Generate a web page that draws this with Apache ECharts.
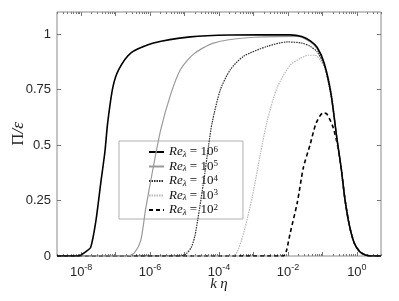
<!DOCTYPE html>
<html>
<head>
<meta charset="utf-8">
<script src="https://cdn.jsdelivr.net/npm/echarts@6/dist/echarts.min.js"></script>
<style>html,body{margin:0;padding:0;background:#fff}#c{width:399px;height:301px}</style>
</head>
<body>
<div id="c"></div>
<script>
// x values are log10(k*eta); y values are Pi/epsilon
const xMin = -8.7, xMax = 0.7;
const xLabelExps = [-8, -6, -4, -2, 0];
const yTicks = [0, 0.25, 0.5, 0.75, 1];

// shared dissipation-range tail (all curves collapse here)
const tailLogK = [-0.45, -0.35, -0.22, -0.08, 0.08, 0.25, 0.4, 0.7];
const tailPi   = [0.39, 0.26, 0.14, 0.06, 0.02, 0.004, 0, 0];

const re6LogK = [-8.7, -8.09, -7.86, -7.72, -7.57, -7.43, -7.31, -7.23, -7.08, -6.91, -6.56, -5.9, -4.83, -3.67, -1.94, -1.6, -1.35, -1.15, -0.95, -0.75, -0.58];
const re6Pi   = [0, 0, 0.02, 0.04, 0.16, 0.33, 0.47, 0.6, 0.76, 0.84, 0.915, 0.96, 0.988, 0.996, 0.997, 0.99, 0.97, 0.94, 0.87, 0.73, 0.53];

const re5LogK = [-8.7, -6.65, -6.45, -6.27, -6.13, -5.92, -5.69, -5.4, -5.12, -4.74, -4.16, -3.09, -1.73, -1.35, -1.15, -0.95, -0.75, -0.58];
const re5Pi   = [0, 0, 0.015, 0.07, 0.21, 0.39, 0.57, 0.73, 0.84, 0.91, 0.96, 0.985, 0.99, 0.965, 0.935, 0.865, 0.73, 0.53];

const re4LogK = [-8.7, -5.1, -4.95, -4.8, -4.7, -4.62, -4.45, -4.3, -4.2, -3.96, -3.67, -3.29, -2.6, -2.02, -1.6, -1.35, -1.15, -0.95, -0.75, -0.58];
const re4Pi   = [0, 0, 0.01, 0.04, 0.09, 0.16, 0.33, 0.5, 0.6, 0.75, 0.84, 0.9, 0.945, 0.965, 0.96, 0.945, 0.92, 0.86, 0.725, 0.53];

const re3LogK = [-8.7, -3.6, -3.47, -3.35, -3.24, -3.03, -2.8, -2.6, -2.31, -1.94, -1.65, -1.4, -1.21, -1.05, -0.87, -0.72, -0.58];
const re3Pi   = [0, 0, 0.02, 0.07, 0.13, 0.27, 0.46, 0.61, 0.76, 0.86, 0.89, 0.905, 0.905, 0.88, 0.83, 0.72, 0.53];

const re2LogK = [-8.7, -2.14, -2.05, -1.94, -1.73, -1.55, -1.36, -1.18, -0.98, -0.87, -0.69, -0.55];
const re2Pi   = [0, 0, 0.02, 0.1, 0.24, 0.4, 0.5, 0.6, 0.645, 0.64, 0.58, 0.49];

const seriesNames = ['6', '5', '4', '3', '2'];

function pairs(xs, ys) {
  const a = xs.map((x, i) => [x, ys[i]]);
  return a.concat(tailLogK.map((x, i) => [x, tailPi[i]]));
}

const majorTicks = [];
const minorTicks = [];
for (let d = -9; d <= 0; d++) {
  if (d >= xMin && d <= xMax) majorTicks.push(d);
  for (let m = 2; m <= 9; m++) {
    const v = d + Math.log10(m);
    if (v > xMin && v < xMax) minorTicks.push(v);
  }
}

const labelFont = 'Liberation Sans, Arial, sans-serif';
const serif = 'Liberation Serif, DejaVu Serif, serif';

function xAxisDef(pos, ticks, len, showLabel) {
  return {
    type: 'value', min: xMin, max: xMax, position: pos, gridIndex: 0,
    axisLine: { show: false, onZero: false },
    splitLine: { show: false },
    axisTick: { show: true, inside: true, length: len, customValues: ticks, lineStyle: { color: '#777', width: 1 } },
    axisLabel: showLabel ? {
      show: true, customValues: xLabelExps, margin: 7,
      formatter: v => '{b|10}{s|' + Math.round(v) + '}',
      rich: {
        b: { fontSize: 13, fontFamily: labelFont, color: '#262626', verticalAlign: 'bottom', lineHeight: 16 },
        s: { fontSize: 9, fontFamily: labelFont, color: '#262626', verticalAlign: 'top', lineHeight: 16, padding: [0, 0, 6, 0] }
      }
    } : { show: false }
  };
}

const xAxes = [
  Object.assign(xAxisDef('bottom', majorTicks, 4, true), {
    name: '{i|k} {i|η}', nameLocation: 'middle', nameGap: 21, nameMoveOverlap: false,
    nameTextStyle: { rich: { i: { fontFamily: serif, fontStyle: 'italic', fontSize: 15, color: '#222' } } }
  }),
  xAxisDef('bottom', minorTicks, 2, false),
  xAxisDef('top', majorTicks, 4, false),
  xAxisDef('top', minorTicks, 2, false)
];

const yAxes = [
  {
    type: 'value', min: 0, max: 1.1, position: 'left',
    axisLine: { show: false, onZero: false }, splitLine: { show: false },
    axisTick: { show: true, inside: true, length: 4, customValues: yTicks, lineStyle: { color: '#777' } },
    axisLabel: { show: true, customValues: yTicks, margin: 6, fontSize: 13, fontFamily: labelFont, color: '#262626',
      formatter: v => String(+v.toFixed(2)) },
    name: '{u|Π}{i|/ε}', nameLocation: 'middle', nameGap: 30, nameRotate: 90, nameMoveOverlap: false,
    nameTextStyle: { rich: {
      u: { fontFamily: serif, fontSize: 17, color: '#222' },
      i: { fontFamily: serif, fontStyle: 'italic', fontSize: 17, color: '#222' } } }
  },
  {
    type: 'value', min: 0, max: 1.1, position: 'right',
    axisLine: { show: false, onZero: false }, splitLine: { show: false },
    axisTick: { show: true, inside: true, length: 4, customValues: yTicks, lineStyle: { color: '#777' } },
    axisLabel: { show: false }
  }
];

const styles = [
  { color: '#000000', width: 1.6, type: 'solid' },
  { color: '#9a9a9a', width: 1.2, type: 'solid' },
  { color: '#2a2a2a', width: 1.2, type: [1.5, 1] },
  { color: '#b8b8b8', width: 1.2, type: [1.5, 1] },
  { color: '#000000', width: 1.6, type: [4, 3] }
];
const datas = [
  pairs(re6LogK, re6Pi), pairs(re5LogK, re5Pi), pairs(re4LogK, re4Pi),
  pairs(re3LogK, re3Pi), pairs(re2LogK, re2Pi)
];

const series = seriesNames.map((n, i) => ({
  name: n, type: 'line', data: datas[i], showSymbol: false, symbol: 'none',
  smooth: 0.25, xAxisIndex: 0, yAxisIndex: 0, animation: false,
  lineStyle: styles[i], itemStyle: { color: styles[i].color }, z: 10 - i
}));

const chart = echarts.init(document.getElementById('c'), null, { renderer: 'canvas' });
chart.setOption({
  animation: false,
  backgroundColor: '#ffffff',
  grid: { left: 57, right: 18, top: 12, bottom: 45, containLabel: false, outerBoundsMode: 'none',
    show: true, borderColor: '#8a8a8a', borderWidth: 1, backgroundColor: 'transparent' },
  xAxis: xAxes,
  yAxis: yAxes,
  legend: {
    show: true, orient: 'vertical', left: 119, top: 141,
    padding: [4, 25, 2, 29], itemGap: 0.5, itemWidth: 15, itemHeight: 10,
    backgroundColor: '#fff', borderColor: '#b0b0b0', borderWidth: 1,
    itemStyle: { color: 'transparent', borderColor: 'transparent', borderWidth: 0, opacity: 0 },
    data: seriesNames,
    formatter: n => '{i|Re}{s|λ}{n| = 10}{p|' + n + '}',
    textStyle: {
      rich: {
        i: { fontFamily: serif, fontStyle: 'italic', fontSize: 13, color: '#111', lineHeight: 14 },
        s: { fontFamily: serif, fontStyle: 'italic', fontSize: 9, color: '#111', verticalAlign: 'bottom', lineHeight: 9 },
        n: { fontFamily: serif, fontSize: 13, color: '#111', lineHeight: 14 },
        p: { fontFamily: serif, fontSize: 9, color: '#111', verticalAlign: 'top', lineHeight: 9 }
      }
    }
  },
  series: series
});
</script>
</body>
</html>
